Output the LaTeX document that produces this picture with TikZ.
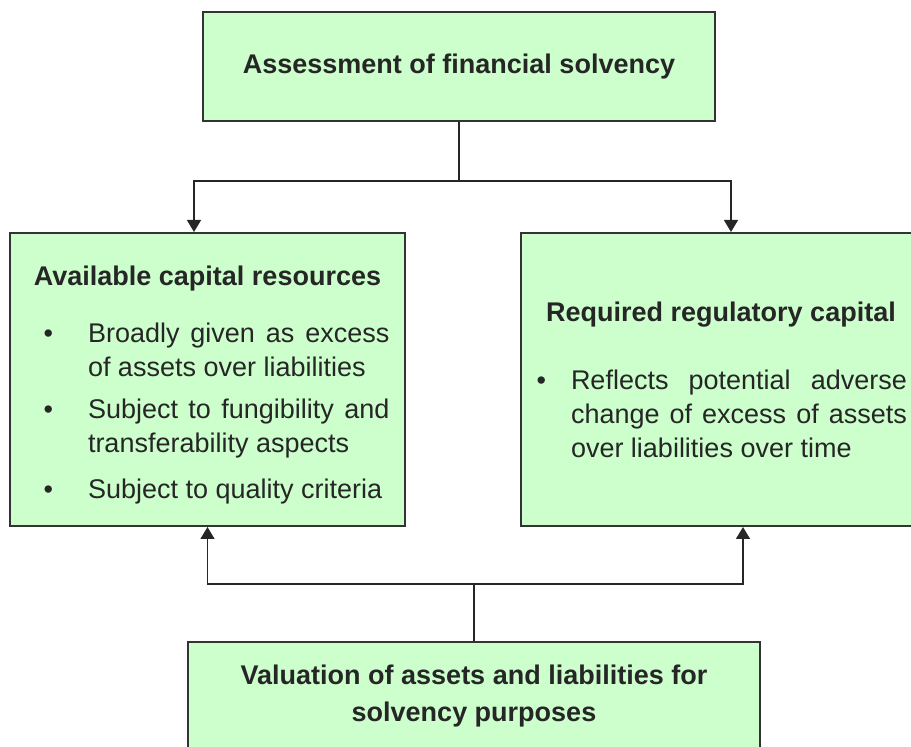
\documentclass[tikz,border=0pt]{standalone}
\usepackage{fontspec}
\setmainfont{Liberation Sans}
\usepackage{enumitem}
\usetikzlibrary{arrows.meta,positioning}

\definecolor{boxgreen}{RGB}{204,255,204}
\setlength{\parindent}{0pt}

\begin{document}
\begin{tikzpicture}[x=0.5pt,y=-0.5pt,>={Triangle[length=6pt,width=7pt]},
    block/.style={draw=black!80,line width=1pt,fill=boxgreen,text=black!85,inner ysep=0pt,align=justify,font=\fontsize{13.5pt}{17pt}\selectfont},
    title/.style={block,align=center,font=\fontsize{13.5pt}{18.5pt}\selectfont\bfseries},
    link/.style={line width=0.75pt,draw=black!85}]

    \clip (0,0) rectangle (911,747);

    \node[title,minimum width=256pt,minimum height=54.5pt] (assess) at (459,66.5) {Assessment of financial solvency};

    \node[block,text width=182pt,inner xsep=7.75pt,minimum height=146.5pt] (avail) at (207.5,379.5) {%
        {\centering\bfseries\rule{0pt}{15pt}Available capital resources\par}
        \begin{itemize}[leftmargin=31.25pt,labelsep=17.5pt,topsep=11.5pt,itemsep=4pt,parsep=0pt,partopsep=0pt]
            \item Broadly given as excess of assets over liabilities
            \item Subject to fungibility and transferability aspects
            \vspace{2pt}
            \item Subject to quality criteria
        \end{itemize}};

    \node[block,text width=186pt,inner xsep=7pt,minimum height=146.5pt] (req) [right=57pt of avail] {%
        {\centering\bfseries Required regulatory capital\par}
        \begin{itemize}[leftmargin=18pt,labelsep=12.5pt,topsep=17pt,itemsep=0pt,parsep=0pt,partopsep=0pt]
            \item Reflects potential adverse change of excess of assets over liabilities over time
        \end{itemize}};

    \node[title,minimum width=286pt,minimum height=54pt] (valu) at (474,696) {Valuation of assets and liabilities for\\solvency purposes};

    % top fork
    \draw[link] (assess.south) -- ++(0,59) coordinate (split);
    \draw[link,->] (split) -| ([xshift=-6.75pt]avail.north);
    \draw[link,->] (split) -| ([xshift=5pt]req.north);

    % bottom fork
    \draw[link] (valu.north) -- ++(0,-57) coordinate (join);
    \draw[link,->] (join) -| (avail.south);
    \draw[link,->] (join) -| ([xshift=11pt]req.south);

\end{tikzpicture}
\end{document}
